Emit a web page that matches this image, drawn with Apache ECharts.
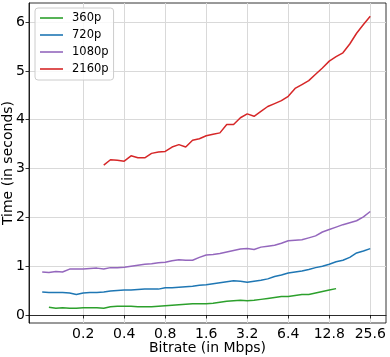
<!DOCTYPE html>
<html lang="en">
<head>
  <meta charset="UTF-8">
  <title>Bitrate vs time</title>
  <script src="https://cdn.jsdelivr.net/npm/echarts@6/dist/echarts.min.js"></script>
  <style>
    html, body { margin: 0; padding: 0; background: #fff; }
  </style>
</head>
<body>
  <div id="chart" style="width: 390px; height: 357px"></div>

  <script>
    // bitrate steps (Mbps), shared by all series
    const bitrates = [
      0.1, 0.112, 0.126, 0.141, 0.159, 0.178, 0.2, 0.224, 0.252, 0.283,
      0.317, 0.356, 0.4, 0.449, 0.504, 0.566, 0.635, 0.713, 0.8, 0.898,
      1.008, 1.131, 1.27, 1.425, 1.6, 1.796, 2.016, 2.263, 2.54, 2.851,
      3.2, 3.592, 4.032, 4.525, 5.08, 5.702, 6.4, 7.184, 8.063, 9.051,
      10.159, 11.404, 12.8, 14.368, 16.127, 18.102, 20.319, 22.807, 25.6
    ]
    const t360 = [
      null, 0.16, 0.14, 0.15, 0.14, 0.14, 0.15, 0.15, 0.15, 0.14,
      0.17, 0.18, 0.18, 0.18, 0.17, 0.17, 0.17, 0.18, 0.19, 0.20,
      0.21, 0.22, 0.23, 0.23, 0.23, 0.24, 0.26, 0.28, 0.29, 0.30,
      0.29, 0.30, 0.32, 0.34, 0.36, 0.38, 0.38, 0.40, 0.42, 0.42,
      0.45, 0.48, 0.51, 0.54, null, null, null, null, null
    ]
    const t720 = [
      0.47, 0.46, 0.46, 0.46, 0.45, 0.42, 0.45, 0.46, 0.46, 0.47,
      0.49, 0.50, 0.51, 0.51, 0.52, 0.53, 0.53, 0.53, 0.56, 0.56,
      0.57, 0.58, 0.59, 0.61, 0.62, 0.64, 0.66, 0.68, 0.70, 0.69,
      0.67, 0.69, 0.71, 0.74, 0.79, 0.82, 0.86, 0.88, 0.90, 0.93,
      0.97, 1.00, 1.04, 1.09, 1.12, 1.18, 1.27, 1.31, 1.36
    ]
    const t1080 = [
      0.88, 0.87, 0.89, 0.88, 0.94, 0.94, 0.94, 0.95, 0.96, 0.94,
      0.97, 0.97, 0.98, 1.00, 1.02, 1.04, 1.05, 1.07, 1.08, 1.11,
      1.13, 1.12, 1.12, 1.18, 1.23, 1.24, 1.26, 1.29, 1.32, 1.35,
      1.36, 1.34, 1.39, 1.41, 1.43, 1.47, 1.52, 1.53, 1.54, 1.58,
      1.62, 1.70, 1.75, 1.80, 1.85, 1.89, 1.93, 2.01, 2.12
    ]
    const t2160 = [
      null, null, null, null, null, null, null, null, null, 3.07,
      3.18, 3.17, 3.15, 3.26, 3.22, 3.22, 3.31, 3.34, 3.35, 3.44,
      3.49, 3.44, 3.58, 3.61, 3.67, 3.70, 3.73, 3.90, 3.90, 4.04,
      4.12, 4.07, 4.17, 4.27, 4.33, 4.39, 4.48, 4.64, 4.72, 4.80,
      4.93, 5.06, 5.20, 5.29, 5.37, 5.55, 5.77, 5.95, 6.12
    ]
    const xTicks = [0.2, 0.4, 0.8, 1.6, 3.2, 6.4, 12.8, 25.6]
    const yTicks = [0, 1, 2, 3, 4, 5, 6]

    const seriesDefs = [
      { name: '360p', values: t360, color: '#2ca02c' },
      { name: '720p', values: t720, color: '#1f77b4' },
      { name: '1080p', values: t1080, color: '#9467bd' },
      { name: '2160p', values: t2160, color: '#d62728' }
    ]

    const font = 'DejaVu Sans'
    const dom = document.getElementById('chart')
    const myChart = echarts.init(dom, null, { renderer: 'canvas' })

    function pairs(values) {
      return bitrates.map((b, i) => [b, values[i]]).filter(p => p[1] != null)
    }

    const option = {
      animation: false,
      grid: {
        left: 29,
        right: 4,
        top: 3,
        bottom: 34,
        show: true,
        borderColor: '#000',
        borderWidth: 0.8,
        outerBoundsMode: 'none'
      },
      legend: {
        orient: 'vertical',
        left: 35,
        top: 8,
        data: seriesDefs.map(s => ({ name: s.name, icon: 'rect' })),
        itemWidth: 23,
        itemHeight: 1.6,
        itemGap: 3,
        padding: [3, 5, 4, 5],
        backgroundColor: 'rgba(255,255,255,0.8)',
        borderColor: '#cccccc',
        borderWidth: 1,
        borderRadius: 3,
        itemStyle: { borderWidth: 0 },
        textStyle: {
          fontFamily: font,
          fontSize: 11.5,
          color: '#000',
          lineHeight: 14,
          padding: [0, 0, 0, 4]
        }
      },
      xAxis: {
        type: 'log',
        logBase: 2,
        min: 0.08,
        max: 33.4,
        name: 'Bitrate (in Mbps)',
        nameLocation: 'middle',
        nameGap: 18,
        nameMoveOverlap: false,
        nameTextStyle: { fontFamily: font, fontSize: 14, color: '#000' },
        axisLine: { show: true, lineStyle: { color: '#000', width: 0.8 } },
        axisTick: {
          show: true,
          length: 3.5,
          customValues: xTicks,
          lineStyle: { color: '#000', width: 0.8 }
        },
        axisLabel: {
          customValues: xTicks,
          margin: 4,
          fontFamily: font,
          fontSize: 14,
          color: '#000',
          formatter: v => String(+(+v).toFixed(1))
        },
        splitLine: { show: true, lineStyle: { color: '#d9d9d9', width: 1 } },
        minorTick: { show: false },
        minorSplitLine: { show: false }
      },
      yAxis: {
        type: 'value',
        min: -0.164,
        max: 6.39,
        name: 'Time (in seconds)',
        nameLocation: 'middle',
        nameGap: 14,
        nameMoveOverlap: false,
        nameTextStyle: { fontFamily: font, fontSize: 14, color: '#000' },
        axisLine: { show: true, lineStyle: { color: '#000', width: 0.8 } },
        axisTick: {
          show: true,
          length: 3.5,
          customValues: yTicks,
          lineStyle: { color: '#000', width: 0.8 }
        },
        axisLabel: {
          customValues: yTicks,
          margin: 4,
          fontFamily: font,
          fontSize: 14,
          color: '#000'
        },
        splitLine: { show: true, lineStyle: { color: '#d9d9d9', width: 1 } }
      },
      series: seriesDefs.map(s => ({
        name: s.name,
        type: 'line',
        symbol: 'none',
        color: s.color,
        lineStyle: { color: s.color, width: 1.5 },
        data: pairs(s.values)
      }))
    }

    myChart.setOption(option)
  </script>
</body>
</html>
